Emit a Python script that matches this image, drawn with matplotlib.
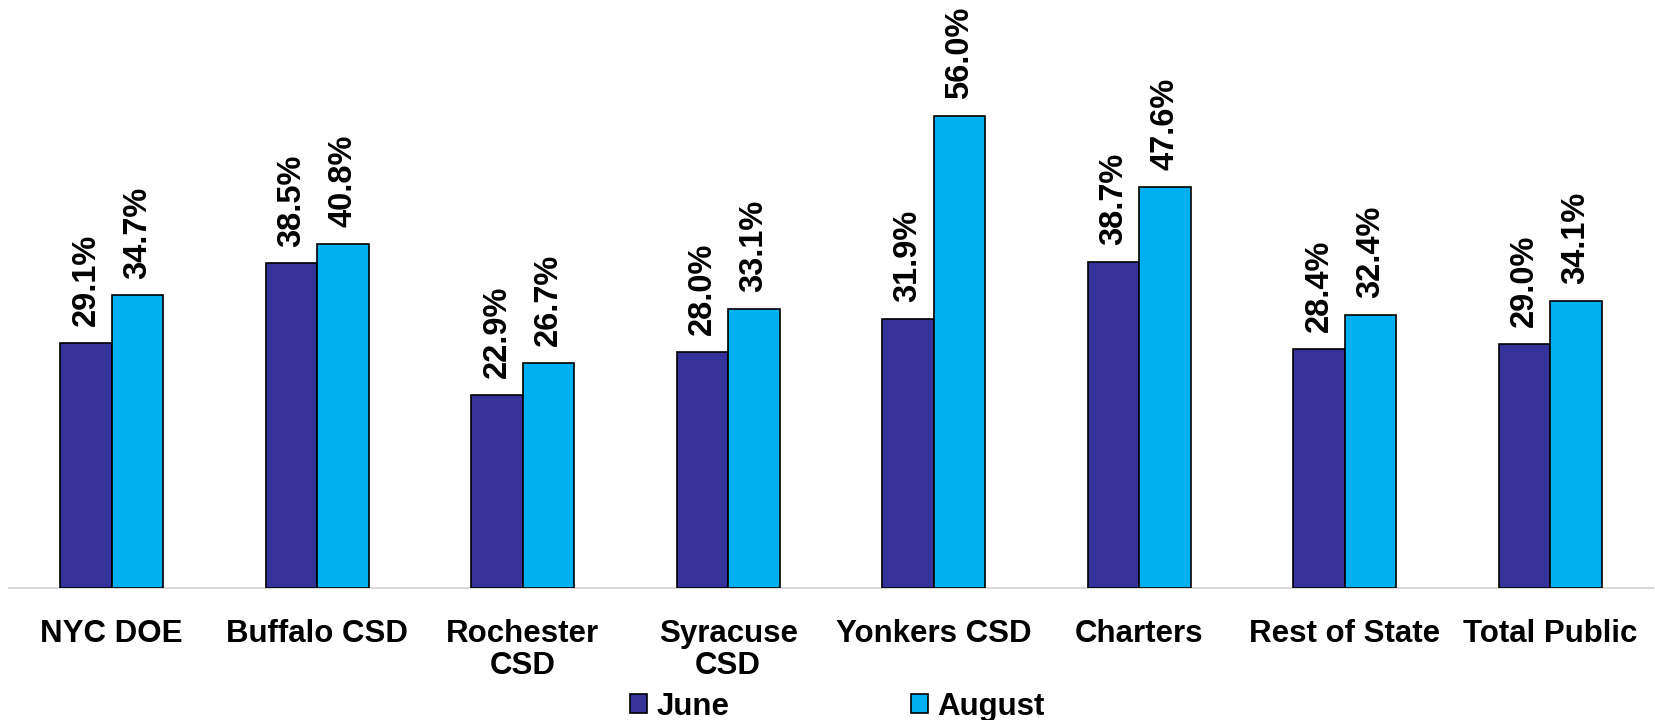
import numpy as np
import matplotlib.pyplot as plt
from matplotlib.patches import Patch

plt.rcParams['font.family'] = ['Liberation Sans', 'DejaVu Sans']
plt.rcParams['font.weight'] = 'bold'

categories = ['NYC DOE', 'Buffalo CSD', 'Rochester\nCSD', 'Syracuse\nCSD',
              'Yonkers CSD', 'Charters', 'Rest of State', 'Total Public']
june = [29.1, 38.5, 22.9, 28.0, 31.9, 38.7, 28.4, 29.0]
august = [34.7, 40.8, 26.7, 33.1, 56.0, 47.6, 32.4, 34.1]
series_names = ['June', 'August']
colors = ['#35339A', '#00B0F0']

fig = plt.figure(figsize=(16.55, 7.2), dpi=100)
ax = fig.add_axes([9 / 1655, 132 / 720, 1644 / 1655, 588 / 720])

x = np.arange(len(categories))
w = 0.25
for vals, off, c in [(june, -w / 2, colors[0]), (august, w / 2, colors[1])]:
    bars = ax.bar(x + off, vals, width=w, color=c, edgecolor='black', linewidth=1.2, zorder=3)
    for b, v in zip(bars, vals):
        ax.annotate(f'{v:.1f}%', (b.get_x() + b.get_width() / 2, v),
                    xytext=(0, 12), textcoords='offset points',
                    rotation=90, ha='center', va='bottom',
                    fontsize=23.5, fontweight='bold')

ax.set_xlim(-0.5, len(categories) - 0.5)
ax.set_ylim(0, 69.75)
ax.set_xticks(x)
ax.set_xticklabels(categories, fontsize=22.5, fontweight='bold', linespacing=1.1)
ax.tick_params(axis='x', length=0, pad=22)
ax.set_yticks([])
for s in ['top', 'right', 'left']:
    ax.spines[s].set_visible(False)
ax.spines['bottom'].set_color('#d9d9d9')
ax.spines['bottom'].set_linewidth(1.5)

handles = [Patch(facecolor=c, edgecolor='black', linewidth=1.2) for c in colors]
fig.legend(handles, series_names, loc='lower center', bbox_to_anchor=(0.506, -0.024),
           ncol=2, frameon=False, prop={'size': 22.5, 'weight': 'bold'},
           handlelength=0.55, handleheight=0.55, handletextpad=0.3,
           columnspacing=5.8, borderpad=0)

fig.savefig('out.png', dpi=100)
